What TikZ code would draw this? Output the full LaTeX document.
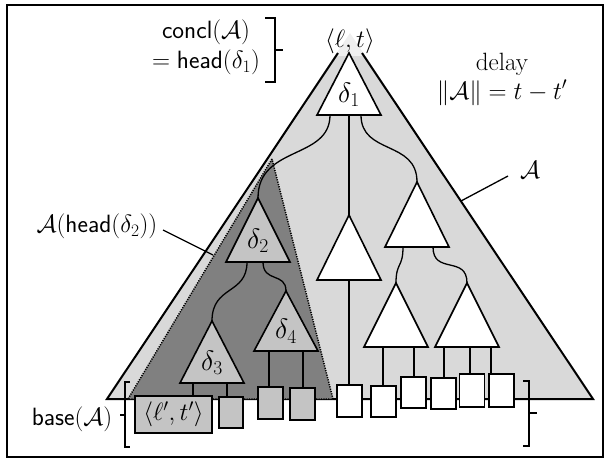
\RequirePackage{fix-cm}
\documentclass[tikz,border=0pt]{standalone}
\usetikzlibrary{calc}
\definecolor{lightA}{RGB}{217,217,217}
\definecolor{darkA}{RGB}{128,128,128}
\definecolor{midA}{RGB}{196,196,196}
\tikzset{
  every node/.style={font=\fontsize{25}{29}\selectfont},
  tri/.style={draw, line width=1.6pt, line join=miter},
  lbl/.style={inner sep=0pt, font=\fontsize{28}{32}\selectfont},
  conn/.style={line width=1.3pt},
  brk/.style={line width=1.4pt},
  leafbox/.style={draw, line width=1.5pt, inner sep=0pt, minimum width=25pt, minimum height=32pt},
}
\newcommand{\mytri}[6]{%
  \coordinate (#1-t) at (#2,#3);
  \filldraw[tri, fill=#5] (#2,#3) -- ({#2-32},#4) -- ({#2+32},#4) -- cycle;
  \node[lbl] (#1) at (#2,{#3+0.67*(#4-#3)}) {#6};
}
\begin{document}
\begin{tikzpicture}[x=1pt,y=-1pt]
\useasboundingbox (0,0) rectangle (605,459);
\draw[line width=2pt] (7,5) rectangle (603,457);

% outer triangle A
\coordinate (apex) at (350,33);
\coordinate (bl) at (107,399);
\coordinate (br) at (593,399);
\fill[lightA] (apex) -- (bl) -- (br) -- cycle;
\node[inner sep=2pt, fill=white, fill opacity=0.6, text opacity=1] (top) at (350,41) {$\langle\ell,t\rangle$};
\coordinate (al) at (338,53);
\coordinate (ar) at (362,53);
\draw[line width=2pt, line join=miter] (al) -- (bl) -- (br) -- (ar);

% sub-argument A(head(delta2))
\coordinate (dapex) at (272,159);
\coordinate (dbl) at (128,399);
\coordinate (dbr) at (333,399);
\filldraw[fill=darkA, draw=black, line width=1.5pt, dash pattern=on 1.2pt off 1.2pt] (dapex) -- (dbl) -- (dbr) -- cycle;

% connectors between triangles
\coordinate (d1a) at (330,115);
\coordinate (d1b) at (349,115);
\coordinate (d1c) at (361,115);
\coordinate (d2a) at (247,262);
\coordinate (d2b) at (263,262);
\coordinate (ra) at (403,247);
\coordinate (rb) at (433,247);
\coordinate (d2-t) at (258,198);
\coordinate (m-t) at (349,215);
\coordinate (r-t) at (417,182);
\coordinate (d3-t) at (212,321);
\coordinate (d4-t) at (286,291);
\coordinate (rl-t) at (396,283);
\coordinate (rr-t) at (467,283);
\draw[conn] (d1a) .. controls (330,160) and (258,145) .. (d2-t);
\draw[conn] (d1b) -- (m-t);
\draw[conn] (d1c) .. controls (361,155) and (417,140) .. (r-t);
\draw[conn] (d2a) .. controls (247,295) and (212,285) .. (d3-t);
\draw[conn] (d2b) .. controls (263,283) and (286,272) .. (d4-t);
\draw[conn] (ra) .. controls (403,268) and (396,262) .. (rl-t);
\draw[conn] (rb) .. controls (433,275) and (467,255) .. (rr-t);

% leaves
\node[leafbox, fill=midA, minimum width=77pt, minimum height=37pt] (b1) at (173.5,414.5) {$\langle\ell',t'\rangle$};
\node[leafbox, fill=midA, minimum width=24pt, minimum height=31pt] (b2) at (231,412.5) {};
\node[leafbox, fill=midA] (b3) at (270.5,403) {};
\node[leafbox, fill=midA] (b4) at (302.5,404) {};
\node[leafbox, fill=white] (b5) at (349.5,401) {};
\node[leafbox, fill=white, minimum height=31pt] (b6) at (383.5,401.5) {};
\node[leafbox, fill=white, minimum height=31pt] (b7) at (413.5,392.5) {};
\node[leafbox, fill=white, minimum height=31pt] (b8) at (443.5,393.5) {};
\node[leafbox, fill=white, minimum height=33pt] (b9) at (472,390.5) {};
\node[leafbox, fill=white, minimum height=33pt] (b10) at (501.5,390.5) {};

% lines from triangles to leaves
\coordinate (d3a) at (193,383);
\coordinate (d3b) at (227,383);
\coordinate (d4a) at (269,351);
\coordinate (d4b) at (303,351);
\coordinate (ma) at (349,280);
\coordinate (rla) at (383,347);
\coordinate (rlb) at (414,347);
\coordinate (rra) at (444,347);
\coordinate (rrb) at (470,347);
\coordinate (rrc) at (491,347);
\draw[conn] (d3a) -- (d3a |- b1.north);
\draw[conn] (d3b) -- (d3b |- b2.north);
\draw[conn] (d4a) -- (d4a |- b3.north);
\draw[conn] (d4b) -- (d4b |- b4.north);
\draw[conn] (ma) -- (ma |- b5.north);
\draw[conn] (rla) -- (rla |- b6.north);
\draw[conn] (rlb) -- (rlb |- b7.north);
\draw[conn] (rra) -- (rra |- b8.north);
\draw[conn] (rrb) -- (rrb |- b9.north);
\draw[conn] (rrc) -- (rrc |- b10.north);

% triangles
\mytri{d1}{349}{53}{115}{white}{$\delta_1$}
\mytri{d2}{258}{198}{262}{midA}{$\delta_2$}
\mytri{d3}{212}{321}{383}{midA}{$\delta_3$}
\mytri{d4}{286}{291}{351}{midA}{$\delta_4$}
\mytri{m}{349}{215}{280}{white}{}
\mytri{r}{417}{182}{247}{white}{}
\mytri{rl}{396}{283}{347}{white}{}
\mytri{rr}{467}{283}{347}{white}{}

% brackets
\draw[brk] (265,18) -- (275,18) -- (275,82) -- (265,82);
\draw[brk] (275,50) -- (283,50);
\draw[brk] (130,382) -- (125,382) -- (125,447) -- (130,447);
\draw[brk] (125,415) -- (120,415);
\draw[brk] (523,381) -- (529,381) -- (529,446) -- (523,446);
\draw[brk] (529,413) -- (537,413);

% labels
\node[align=center, inner sep=0pt] (concl) at (206,47) {$\textsf{concl}(\mathcal{A})$\\[1pt]$=\textsf{head}(\delta_1)$};
\node[align=center, inner sep=0pt] (delay) at (502,79) {delay\\$\|\mathcal{A}\|=t-t'$};
\node[inner sep=0pt] (lblA) at (530,170) {$\mathcal{A}$};
\node[inner sep=0pt] (lblH) at (97,226) {$\mathcal{A}(\textsf{head}(\delta_2))$};
\node[inner sep=0pt] (lblB) at (72,419) {$\textsf{base}(\mathcal{A})$};
\coordinate (la1) at (508,176);
\coordinate (la2) at (461,201);
\coordinate (lh1) at (163,230);
\coordinate (lh2) at (213,255);
\draw[conn] (la1) -- (la2);
\draw[conn] (lh1) -- (lh2);
\end{tikzpicture}
\end{document}
